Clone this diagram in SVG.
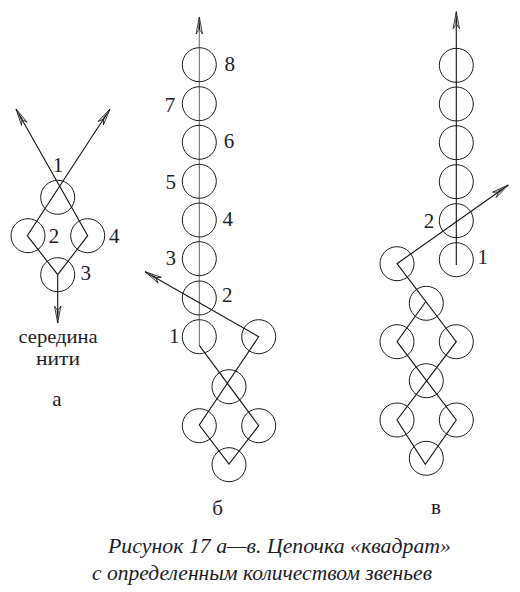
<svg xmlns="http://www.w3.org/2000/svg" width="520" height="592" viewBox="0 0 520 592">
<style>
.b{fill:none;stroke:#1a1a1a;stroke-width:1}
.l{fill:none;stroke:#111;stroke-width:1.1;stroke-linejoin:miter}
.v{fill:none;stroke:#666;stroke-width:1}
.t{font-family:"Liberation Serif","Times New Roman",serif;font-size:21px;fill:#1c1c28;text-anchor:middle}
.s{font-family:"Liberation Serif","Times New Roman",serif;font-size:19px;fill:#1c1c28}
.c{font-family:"Liberation Serif","Times New Roman",serif;font-size:21.5px;font-style:italic;fill:#1c1c28}
</style>
<defs>
<marker id="ah" markerUnits="userSpaceOnUse" markerWidth="24" markerHeight="14" refX="20" refY="7" orient="auto" overflow="visible">
<path d="M20,7 L3,3.8 L8,7 L3,10.2 Z" fill="#fff" stroke="#111" stroke-width=".8"/>
<path d="M20,7 L8,6 L8,8 Z" fill="#111"/>
</marker>
</defs>
<g id="connectors">
<path class="l" marker-end="url(#ah)" d="M57.7,274.7 L87.7,235.7 L16,109"/>
<path class="l" marker-end="url(#ah)" d="M57.7,274.7 L27.3,235.7 L110,109"/>
<path class="l" marker-end="url(#ah)" d="M57.7,274.7 L57.7,323"/>
<path class="v" marker-end="url(#ah)" d="M199.3,345.3 L199.3,17"/>
<path class="l" marker-end="url(#ah)" d="M199.3,345.3 L258.7,425.7 L229,464 L199.3,425 L258.7,336.7 L145,271.7"/>
<path class="l" marker-end="url(#ah)" d="M456.3,265 L456.3,11.7"/>
<path class="l" marker-end="url(#ah)" d="M425.3,302.3 L397,341.7 L456.3,420 L425.3,464.3 L397,420 L456.3,341.7 L397,263.7 L508.3,185"/>
</g>
<g id="panel-a">
<g id="a1"><circle class="b" cx="57.7" cy="197.3" r="17"/><text class="t" x="58" y="171.7">1</text></g>
<g id="a2"><circle class="b" cx="28" cy="235.7" r="17"/><text class="t" x="54" y="242.7">2</text></g>
<g id="a3"><circle class="b" cx="57.7" cy="274.7" r="17"/><text class="t" x="85.7" y="280">3</text></g>
<g id="a4"><circle class="b" cx="87.7" cy="235.7" r="17"/><text class="t" x="114.3" y="243">4</text></g>
<text class="s" x="18.5" y="342.5" textLength="79" lengthAdjust="spacingAndGlyphs">середина</text>
<text class="s" x="36" y="364.5" textLength="44" lengthAdjust="spacingAndGlyphs">нити</text>
<text class="t" x="57" y="406">а</text>
</g>
<g id="panel-b">
<g id="b8"><circle class="b" cx="199.3" cy="64.7" r="17"/><text class="t" x="229.7" y="70.7">8</text></g>
<g id="b7"><circle class="b" cx="199.3" cy="103.7" r="17"/><text class="t" x="170" y="111.7">7</text></g>
<g id="b6"><circle class="b" cx="199.3" cy="142.3" r="17"/><text class="t" x="229" y="148.3">6</text></g>
<g id="b5"><circle class="b" cx="199.3" cy="181.3" r="17"/><text class="t" x="170.7" y="189.3">5</text></g>
<g id="b4"><circle class="b" cx="199.3" cy="220" r="17"/><text class="t" x="227.7" y="226">4</text></g>
<g id="b3"><circle class="b" cx="199.3" cy="258.7" r="17"/><text class="t" x="170.7" y="265">3</text></g>
<g id="b2"><circle class="b" cx="199.3" cy="298" r="17"/><text class="t" x="227.3" y="302.3">2</text></g>
<g id="b1"><circle class="b" cx="199.3" cy="336.7" r="17"/><text class="t" x="174.3" y="343.3">1</text></g>
<g id="b9"><circle class="b" cx="258.7" cy="336.7" r="17"/></g>
<g id="b10"><circle class="b" cx="229" cy="386.7" r="17"/></g>
<g id="b11"><circle class="b" cx="199.3" cy="425.7" r="17"/></g>
<g id="b12"><circle class="b" cx="258.7" cy="425.7" r="17"/></g>
<g id="b13"><circle class="b" cx="229" cy="464.7" r="17"/></g>
<text class="t" x="217.7" y="515">б</text>
</g>
<g id="panel-c">
<g id="c6"><circle class="b" cx="456.3" cy="65.3" r="17"/></g>
<g id="c5"><circle class="b" cx="456.3" cy="104" r="17"/></g>
<g id="c4"><circle class="b" cx="456.3" cy="142.7" r="17"/></g>
<g id="c3"><circle class="b" cx="456.3" cy="181.7" r="17"/></g>
<g id="c2"><circle class="b" cx="456.3" cy="220.7" r="17"/><text class="t" x="429" y="228.3">2</text></g>
<g id="c1"><circle class="b" cx="456.3" cy="259.7" r="17"/><text class="t" x="482.7" y="263.7">1</text></g>
<g id="c7"><circle class="b" cx="397" cy="263.7" r="17"/></g>
<g id="c8"><circle class="b" cx="426.3" cy="303.3" r="17"/></g>
<g id="c9"><circle class="b" cx="397" cy="341.7" r="17"/></g>
<g id="c10"><circle class="b" cx="456.3" cy="341.7" r="17"/></g>
<g id="c11"><circle class="b" cx="426.3" cy="380.7" r="17"/></g>
<g id="c12"><circle class="b" cx="397" cy="420" r="17"/></g>
<g id="c13"><circle class="b" cx="456.3" cy="420" r="17"/></g>
<g id="c14"><circle class="b" cx="426.3" cy="458.3" r="17"/></g>
<text class="t" x="436" y="514.3">в</text>
</g>
<g id="caption">
<text class="c" x="108" y="553" textLength="343" lengthAdjust="spacingAndGlyphs">Рисунок 17 а—в. Цепочка «квадрат»</text>
<text class="c" x="92" y="580" textLength="340" lengthAdjust="spacingAndGlyphs">с определенным количеством звеньев</text>
</g>
</svg>
